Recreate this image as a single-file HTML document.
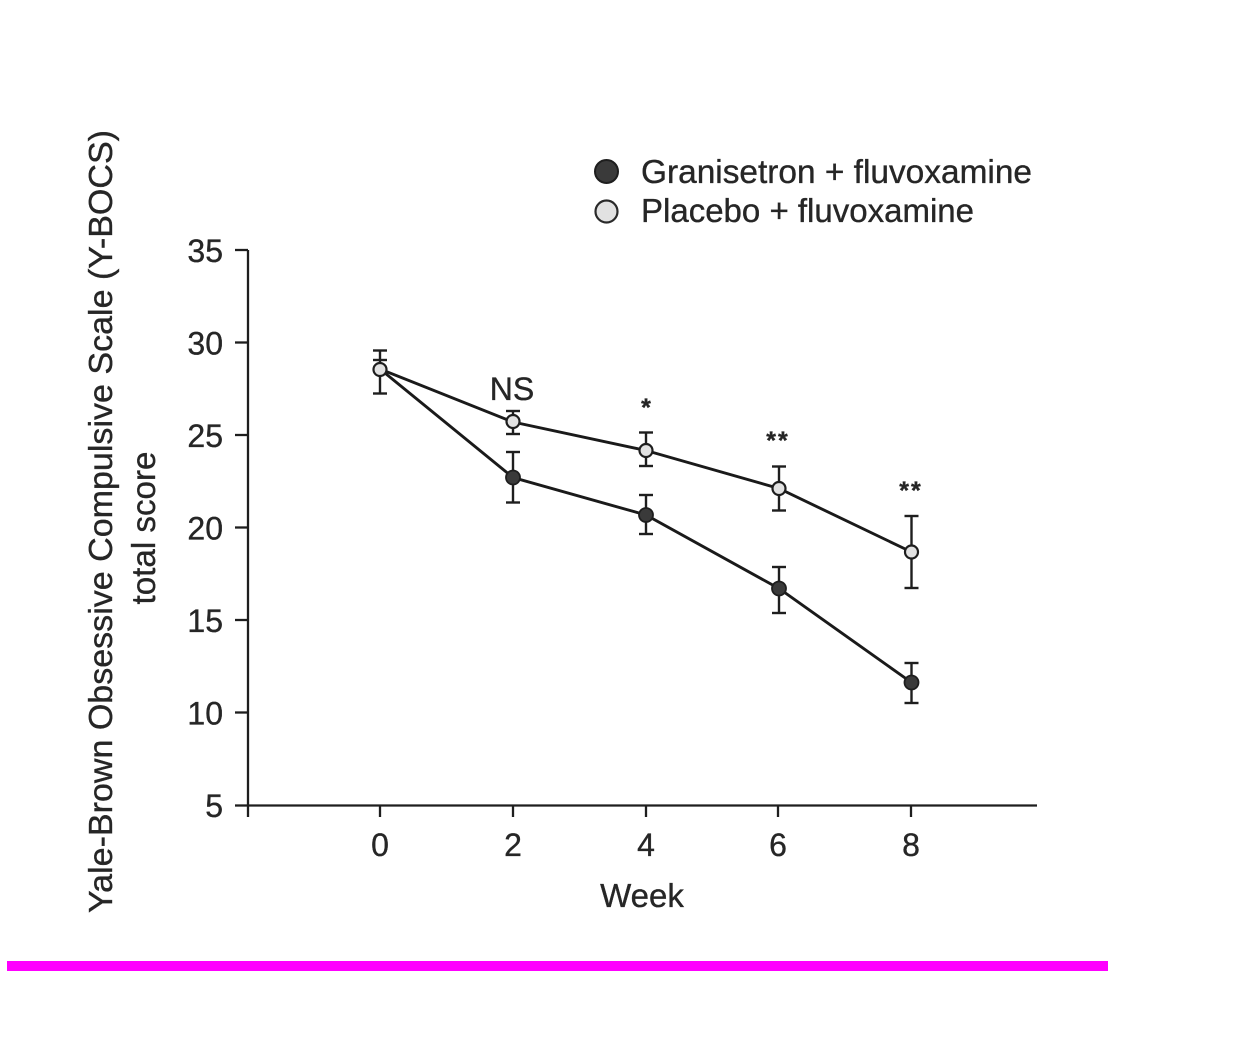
<!DOCTYPE html>
<html>
<head>
<meta charset="utf-8">
<style>
  html, body { margin: 0; padding: 0; background: #ffffff; }
  svg { display: block; }
  text { font-family: "Liberation Sans", Arial, sans-serif; fill: #262626; stroke: #262626; stroke-width: 0.35; }
</style>
</head>
<body>
<svg width="1240" height="1056" viewBox="0 0 1240 1056" xmlns="http://www.w3.org/2000/svg">
  <rect x="0" y="0" width="1240" height="1056" fill="#ffffff"/>

  <!-- Y axis title -->
  <text transform="translate(112,521.5) rotate(-90)" text-anchor="middle" font-size="33" textLength="783" lengthAdjust="spacingAndGlyphs">Yale-Brown Obsessive Compulsive Scale (Y-BOCS)</text>
  <text transform="translate(155,528) rotate(-90)" text-anchor="middle" font-size="33" textLength="153" lengthAdjust="spacingAndGlyphs">total score</text>

  <!-- Axes -->
  <g stroke="#1e1e1e" stroke-width="2.3" fill="none">
    <line x1="248" y1="250" x2="248" y2="817"/>
    <line x1="247" y1="805.5" x2="1037" y2="805.5"/>
    <!-- y ticks -->
    <line x1="235" y1="250" x2="248" y2="250"/>
    <line x1="235" y1="342.5" x2="248" y2="342.5"/>
    <line x1="235" y1="435" x2="248" y2="435"/>
    <line x1="235" y1="527.5" x2="248" y2="527.5"/>
    <line x1="235" y1="620" x2="248" y2="620"/>
    <line x1="235" y1="712.5" x2="248" y2="712.5"/>
    <line x1="235" y1="805.5" x2="248" y2="805.5"/>
    <!-- x ticks -->
    <line x1="380" y1="805" x2="380" y2="817"/>
    <line x1="513" y1="805" x2="513" y2="817"/>
    <line x1="646" y1="805" x2="646" y2="817"/>
    <line x1="778" y1="805" x2="778" y2="817"/>
    <line x1="911" y1="805" x2="911" y2="817"/>
  </g>

  <!-- Y tick labels -->
  <g font-size="32" text-anchor="end">
    <text x="223" y="262">35</text>
    <text x="223" y="354.5">30</text>
    <text x="223" y="447">25</text>
    <text x="223" y="539.5">20</text>
    <text x="223" y="632">15</text>
    <text x="223" y="724.5">10</text>
    <text x="223" y="817">5</text>
  </g>

  <!-- X tick labels -->
  <g font-size="32" text-anchor="middle">
    <text x="380" y="856">0</text>
    <text x="513" y="856">2</text>
    <text x="646" y="856">4</text>
    <text x="778" y="856">6</text>
    <text x="911" y="856">8</text>
  </g>
  <text x="642" y="907" font-size="33" text-anchor="middle">Week</text>

  <!-- Legend -->
  <circle cx="606.5" cy="171.5" r="11.5" fill="#3a3a3a" stroke="#1e1e1e" stroke-width="2"/>
  <circle cx="606.5" cy="211.5" r="11" fill="#e2e2e2" stroke="#2a2a2a" stroke-width="2.2"/>
  <text x="641" y="183" font-size="33" textLength="391" lengthAdjust="spacingAndGlyphs">Granisetron + fluvoxamine</text>
  <text x="641" y="222" font-size="33" textLength="333" lengthAdjust="spacingAndGlyphs">Placebo + fluvoxamine</text>

  <!-- Error bars -->
  <g stroke="#1e1e1e" stroke-width="2.4" fill="none">
    <!-- week 0 -->
    <line x1="380" y1="350.5" x2="380" y2="393.5"/>
    <line x1="373" y1="350.5" x2="387" y2="350.5"/>
    <line x1="373" y1="393.5" x2="387" y2="393.5"/>
    <line x1="373" y1="360" x2="387" y2="360"/>
    <!-- placebo -->
    <line x1="513" y1="411" x2="513" y2="434"/>
    <line x1="506" y1="411" x2="520" y2="411"/>
    <line x1="506" y1="434" x2="520" y2="434"/>
    <line x1="646" y1="432.5" x2="646" y2="466"/>
    <line x1="639" y1="432.5" x2="653" y2="432.5"/>
    <line x1="639" y1="466" x2="653" y2="466"/>
    <line x1="779" y1="466.5" x2="779" y2="510.5"/>
    <line x1="772" y1="466.5" x2="786" y2="466.5"/>
    <line x1="772" y1="510.5" x2="786" y2="510.5"/>
    <line x1="911.5" y1="516" x2="911.5" y2="588"/>
    <line x1="904.5" y1="516" x2="918.5" y2="516"/>
    <line x1="904.5" y1="588" x2="918.5" y2="588"/>
    <!-- granisetron -->
    <line x1="513" y1="452" x2="513" y2="502.5"/>
    <line x1="506" y1="452" x2="520" y2="452"/>
    <line x1="506" y1="502.5" x2="520" y2="502.5"/>
    <line x1="646" y1="495" x2="646" y2="534"/>
    <line x1="639" y1="495" x2="653" y2="495"/>
    <line x1="639" y1="534" x2="653" y2="534"/>
    <line x1="779" y1="567" x2="779" y2="613"/>
    <line x1="772" y1="567" x2="786" y2="567"/>
    <line x1="772" y1="613" x2="786" y2="613"/>
    <line x1="911.5" y1="663" x2="911.5" y2="703"/>
    <line x1="904.5" y1="663" x2="918.5" y2="663"/>
    <line x1="904.5" y1="703" x2="918.5" y2="703"/>
  </g>

  <!-- Series lines -->
  <polyline points="380,369 513,422 646,450.5 779,488.5 911.5,552" fill="none" stroke="#1a1a1a" stroke-width="2.9"/>
  <polyline points="380,369 513,477.5 646,515 779,588.5 911.5,682.5" fill="none" stroke="#1a1a1a" stroke-width="2.9"/>

  <!-- Markers: granisetron (filled) -->
  <g fill="#3a3a3a" stroke="#1e1e1e" stroke-width="1.8">
    <circle cx="513" cy="477.5" r="7"/>
    <circle cx="646" cy="515" r="7"/>
    <circle cx="779" cy="588.5" r="7"/>
    <circle cx="911.5" cy="682.5" r="7"/>
  </g>
  <!-- Markers: placebo (open) -->
  <g fill="#e2e2e2" stroke="#1e1e1e" stroke-width="2.2">
    <circle cx="380" cy="369.5" r="6.5"/>
    <circle cx="513" cy="421.5" r="6.5"/>
    <circle cx="646" cy="450.5" r="6.5"/>
    <circle cx="779" cy="488.5" r="6.5"/>
    <circle cx="911.5" cy="552" r="6.5"/>
  </g>

  <!-- Significance annotations -->
  <text x="512" y="400" font-size="32" text-anchor="middle">NS</text>
  <text x="646" y="416" font-size="25" font-weight="bold" text-anchor="middle">*</text>
  <text x="778" y="449" font-size="25" font-weight="bold" text-anchor="middle" letter-spacing="2">**</text>
  <text x="911" y="499" font-size="25" font-weight="bold" text-anchor="middle" letter-spacing="2">**</text>

  <!-- Magenta bar -->
  <rect x="7" y="961" width="1101" height="10" fill="#ff00ff"/>
</svg>
</body>
</html>
